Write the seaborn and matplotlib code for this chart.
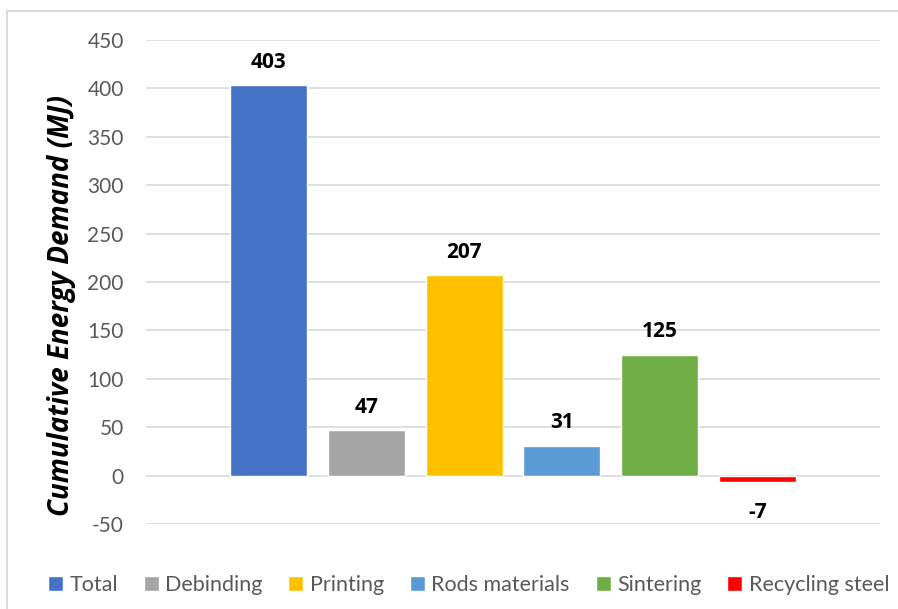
import matplotlib
matplotlib.use("Agg")
import matplotlib.pyplot as plt
import seaborn as sns
import pandas as pd
from matplotlib.patches import Rectangle

categories = ["Total", "Debinding", "Printing", "Rods materials", "Sintering", "Recycling steel"]
values = [403, 47, 207, 31, 125, -7]
colors = ["#4472C4", "#A5A5A5", "#FFC000", "#5B9BD5", "#70AD47", "#FF0000"]
yticks = [-50, 0, 50, 100, 150, 200, 250, 300, 350, 400, 450]

sns.set_theme(style="white")
plt.rcParams['font.family'] = ['Lato', 'DejaVu Sans']

df = pd.DataFrame({"cat": categories, "val": values})

W, H = 898, 609
fig = plt.figure(figsize=(W / 100, H / 100), dpi=100)
ax = fig.add_axes([146 / W, 1 - 524 / H, (880 - 146) / W, (524 - 40) / H])

sns.barplot(data=df, x="cat", y="val", hue="cat", palette=colors,
            order=categories, hue_order=categories, width=0.79,
            dodge=False, legend=True, ax=ax, saturation=1)

ax.set_xlim(-1.255, 6.255)
ax.set_ylim(-50, 450)
ax.set_yticks(yticks)
ax.set_yticklabels([str(t) for t in yticks])
ax.set_xticks([])
ax.set_xlabel("")
ax.grid(axis="y", color="#D9D9D9", linewidth=1.2)
ax.set_axisbelow(True)
for s in ax.spines.values():
    s.set_visible(False)
ax.tick_params(axis="y", length=0, pad=16, labelsize=15, labelcolor="#595959")

for c, v in zip(ax.containers, values):
    ax.bar_label(c, fmt="%d", padding=(9 if v >= 0 else 14), fontsize=15, fontweight="bold",
                 color="black", family=["Open Sans", "DejaVu Sans"])

ax.set_ylabel("Cumulative Energy Demand (MJ)", fontsize=20, fontweight="bold",
              fontstyle="italic", color="black", family=["Open Sans", "DejaVu Sans"])
ax.yaxis.set_label_coords(-0.095, 0.452)

handles, labels = ax.get_legend_handles_labels()
ax.legend(handles, labels, loc="center", bbox_to_anchor=(0.5 + 19.5 / W, 1 - 585 / H),
          bbox_transform=fig.transFigure, ncol=6, frameon=False,
          fontsize=15.5, labelcolor="#595959", handlelength=0.7, handleheight=0.7,
          handletextpad=0.3, columnspacing=1.2, borderaxespad=0)

fig.patches.append(Rectangle((7 / W, -0.05), 1.0, 1 - 10.5 / H + 0.05,
                             transform=fig.transFigure, fill=False,
                             edgecolor="#D9D9D9", linewidth=1.5))

fig.savefig("out.png", dpi=100)
